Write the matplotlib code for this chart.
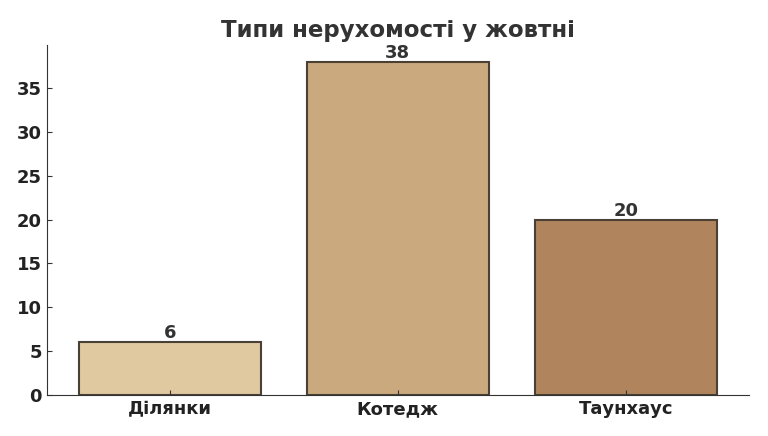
import matplotlib.pyplot as plt

# data
categories = ['Ділянки', 'Котедж', 'Таунхаус']
counts = [6, 38, 20]
bar_colors = ['#E0C8A0', '#CBA97E', '#B0845C']

fig, ax = plt.subplots(figsize=(7.68, 4.36), dpi=100)
bars = ax.bar(categories, counts, color=bar_colors, edgecolor='#4a4035', linewidth=1.5, width=0.8)

for b, v in zip(bars, counts):
    ax.text(b.get_x() + b.get_width() / 2, v, str(v), ha='center', va='bottom',
            fontsize=13, fontweight='bold', color='#333333')

ax.set_title('Типи нерухомості у жовтні', fontsize=16.5, fontweight='bold', color='#333333')
ax.spines['top'].set_visible(False)
ax.spines['right'].set_visible(False)
ax.spines['left'].set_color('#333333')
ax.spines['bottom'].set_color('#333333')
ax.tick_params(direction='in', labelsize=13, colors='#333333')
for lab in ax.get_xticklabels() + ax.get_yticklabels():
    lab.set_fontweight('bold')
    lab.set_color('#222222')

plt.subplots_adjust(left=0.061, right=0.975, top=0.897, bottom=0.094)
plt.savefig('out.png')
